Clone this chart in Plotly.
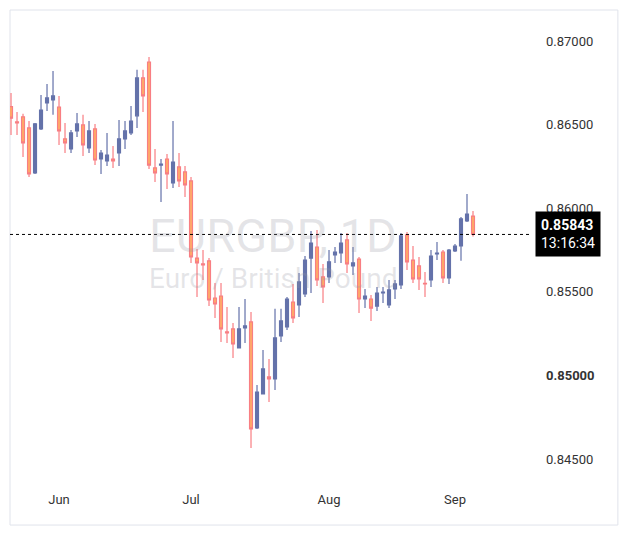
import plotly.graph_objects as go

opens = [0.86607,0.86516,0.86546,0.86480,0.86211,0.86474,0.86629,0.86647,0.86605,0.86414,
         0.86354,0.86462,0.86498,0.86360,0.86474,0.86294,0.86282,0.86294,0.86330,0.86414,
         0.86450,0.86552,0.86779,0.86874,0.86241,0.86258,0.86294,0.86151,0.86247,0.86217,
         0.86163,0.85702,0.85667,0.85685,0.85463,0.85475,0.85260,0.85278,0.85164,0.85284,
         0.85320,0.84686,0.84889,0.84991,0.84979,0.85236,0.85290,0.85439,0.85421,0.85487,
         0.85702,0.85768,0.85589,0.85589,0.85720,0.85732,0.85810,0.85655,0.85696,0.85457,
         0.85457,0.85415,0.85493,0.85421,0.85517,0.85541,0.85840,0.85690,0.85655,0.85550,
         0.85571,0.85726,0.85738,0.85583,0.85744,0.85774,0.85924,0.85953]
highs = [0.86689,0.86575,0.86564,0.86521,0.86510,0.86677,0.86743,0.86821,0.86671,0.86510,
         0.86468,0.86569,0.86558,0.86521,0.86504,0.86348,0.86450,0.86372,0.86527,0.86521,
         0.86611,0.86827,0.86827,0.86904,0.86354,0.86294,0.86324,0.86521,0.86330,0.86252,
         0.86187,0.85756,0.85750,0.85702,0.85553,0.85553,0.85409,0.85314,0.85409,0.85457,
         0.85380,0.84943,0.85152,0.85098,0.85398,0.85398,0.85469,0.85547,0.85613,0.85714,
         0.85864,0.85870,0.85667,0.85750,0.85768,0.85852,0.85852,0.85768,0.85708,0.85517,
         0.85481,0.85529,0.85529,0.85571,0.85571,0.85852,0.85858,0.85774,0.85708,0.85619,
         0.85750,0.85798,0.85750,0.85756,0.85786,0.85948,0.86085,0.85983]
lows = [0.86438,0.86438,0.86306,0.86187,0.86205,0.86468,0.86581,0.86558,0.86378,0.86330,
        0.86330,0.86426,0.86312,0.86330,0.86258,0.86205,0.86252,0.86241,0.86252,0.86354,
        0.86438,0.86480,0.86575,0.86235,0.86157,0.86037,0.86115,0.86121,0.86127,0.86067,
        0.85673,0.85469,0.85571,0.85415,0.85344,0.85200,0.85194,0.85104,0.85164,0.85194,
        0.84566,0.84680,0.84889,0.84841,0.84913,0.85200,0.85272,0.85314,0.85350,0.85469,
        0.85493,0.85535,0.85433,0.85553,0.85673,0.85673,0.85613,0.85601,0.85374,0.85403,
        0.85326,0.85386,0.85433,0.85403,0.85457,0.85517,0.85631,0.85553,0.85511,0.85469,
        0.85529,0.85690,0.85553,0.85547,0.85738,0.85685,0.85918,0.85830]
closes = [0.86538,0.86510,0.86390,0.86205,0.86504,0.86587,0.86659,0.86671,0.86462,0.86390,
          0.86450,0.86504,0.86378,0.86462,0.86288,0.86330,0.86318,0.86282,0.86414,0.86462,
          0.86521,0.86779,0.86671,0.86258,0.86211,0.86264,0.86205,0.86276,0.86163,0.86139,
          0.85708,0.85673,0.85661,0.85451,0.85427,0.85278,0.85254,0.85188,0.85278,0.85296,
          0.84680,0.84901,0.85039,0.84979,0.85224,0.85326,0.85457,0.85344,0.85559,0.85690,
          0.85792,0.85571,0.85529,0.85679,0.85738,0.85792,0.85667,0.85673,0.85457,0.85475,
          0.85403,0.85493,0.85499,0.85511,0.85547,0.85834,0.85679,0.85577,0.85577,0.85547,
          0.85714,0.85732,0.85583,0.85750,0.85774,0.85936,0.85965,0.85843]
x_idx = list(range(len(opens)))

month_pos = [8, 30, 53, 74]
month_labels = ["Jun", "Jul", "Aug", "Sep"]
price_ticks = [0.845, 0.850, 0.855, 0.860, 0.865, 0.870]
price_labels = ["0.84500", "<b>0.85000</b>", "0.85500", "0.86000", "0.86500", "0.87000"]
last_price = 0.85843
countdown = "13:16:34"

fig = go.Figure(go.Candlestick(
    x=x_idx, open=opens, high=highs, low=lows, close=closes,
    increasing=dict(line=dict(color="#6472aa", width=1.2), fillcolor="#6472aa"),
    decreasing=dict(line=dict(color="#f87e83", width=1.2), fillcolor="#ffac66"),
    whiskerwidth=0, showlegend=False, hoverinfo="skip"))

fig.update_layout(
    width=629, height=539, margin=dict(l=2, r=107, t=2, b=57),
    paper_bgcolor="white", plot_bgcolor="white",
    font=dict(family="Roboto", size=13, color="#333333"),
    xaxis=dict(range=[-0.17, 86.5], rangeslider=dict(visible=False), showgrid=False,
               zeroline=False, tickmode="array", tickvals=month_pos, ticktext=month_labels,
               ticks="", showline=False, tickfont=dict(size=13, color="#333")),
    yaxis=dict(range=[0.84315, 0.87185], side="right", showgrid=False, zeroline=False,
               tickmode="array", tickvals=price_ticks, ticktext=price_labels, ticks="",
               ticklabelstandoff=15, tickfont=dict(size=13, color="#333")),
)
fig.add_annotation(x=0.506, y=0.53, xref="paper", yref="paper", text="EURGBP, 1D",
                   showarrow=False, font=dict(size=47, color="rgba(150,150,160,0.25)"))
fig.add_annotation(x=0.506, y=0.44, xref="paper", yref="paper", text="Euro / British Pound",
                   showarrow=False, font=dict(size=28, color="rgba(150,150,160,0.25)"))
fig.add_shape(type="line", xref="paper", x0=0, x1=1, yref="y", y0=last_price, y1=last_price,
              line=dict(color="black", width=1, dash="dot"))
fig.add_annotation(x=1.01, y=last_price, xref="paper", yref="y", xanchor="left",
                   text="<b>0.85843</b><br>" + countdown, showarrow=False, align="left",
                   bgcolor="black", font=dict(size=14, color="white"), borderpad=5)
fig.add_shape(type="rect", xref="paper", yref="paper", x0=0, x1=1.169, y0=-0.073, y1=1,
              line=dict(color="#e0e3eb", width=1), layer="below")
fig.write_html("out.html")
